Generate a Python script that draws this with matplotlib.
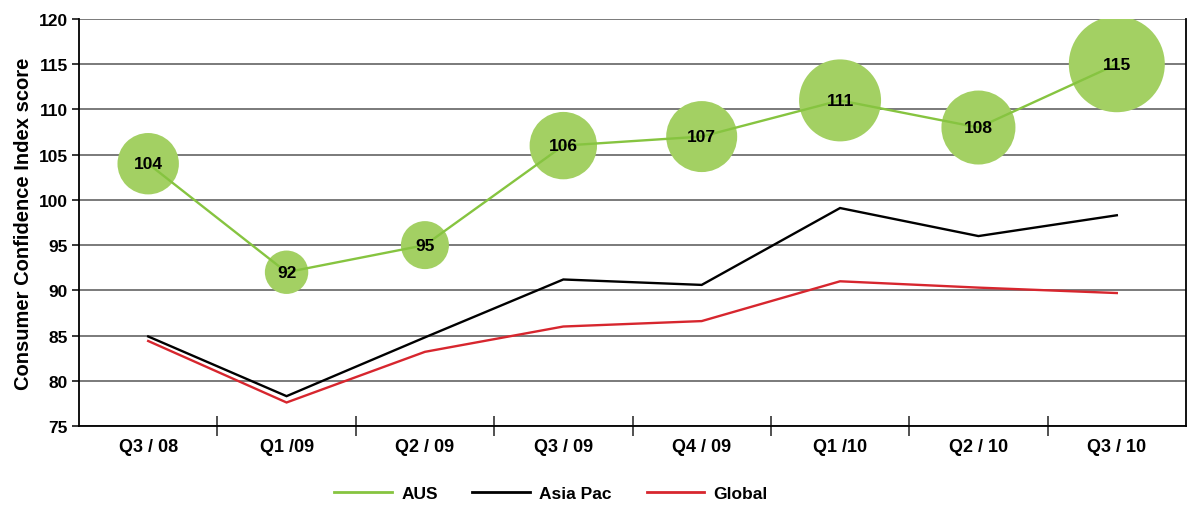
import matplotlib
matplotlib.use("Agg")
import matplotlib.pyplot as plt
from matplotlib.ticker import FixedLocator, NullFormatter

plt.rcParams['font.family'] = ['Liberation Sans', 'DejaVu Sans']

# Quarterly consumer confidence index scores
quarters = ["Q3 / 08", "Q1 /09", "Q2 / 09", "Q3 / 09", "Q4 / 09", "Q1 /10", "Q2 / 10", "Q3 / 10"]
aus = [104, 92, 95, 106, 107, 111, 108, 115]
asia_pac = [84.9, 78.3, 84.8, 91.2, 90.6, 99.1, 96.0, 98.3]
global_ = [84.4, 77.6, 83.2, 86.0, 86.6, 91.0, 90.3, 89.7]

# bubble radii in pixels for the AUS markers
bubble_r_px = [30.7, 21.7, 24.0, 33.7, 35.5, 41.0, 37.0, 48.0]

GREEN_LINE = "#86C440"
GREEN_FILL = "#A3D063"
RED = "#D7262E"

dpi = 100
fig = plt.figure(figsize=(11.96, 5.06), dpi=dpi)
ax = fig.add_axes([79 / 1196, 1 - 427 / 506, (1186 - 79) / 1196, (427 - 20) / 506])

x = list(range(len(quarters)))

ax.plot(x, global_, color=RED, lw=1.7, zorder=3, solid_joinstyle="miter")
ax.plot(x, asia_pac, color="black", lw=1.7, zorder=3, solid_joinstyle="miter")

sizes = [(2 * r * 72 / dpi) ** 2 for r in bubble_r_px]
ax.scatter(x, aus, s=sizes, color=GREEN_FILL, edgecolors="none", zorder=4)
ax.plot(x, aus, color=GREEN_LINE, lw=1.7, zorder=5)
for xi, v in zip(x, aus):
    ax.text(xi, v, f"{v:.0f}", ha="center", va="center", fontsize=12.5,
            fontweight="bold", color="black", zorder=6)

# legend handles
ax.plot([], [], color=GREEN_LINE, lw=2, label="AUS")
ax.plot([], [], color="black", lw=2, label="Asia Pac")
ax.plot([], [], color=RED, lw=2, label="Global")
handles, labels = ax.get_legend_handles_labels()
fig.legend(handles[-3:], labels[-3:], loc="center", bbox_to_anchor=(551 / 1196, 1 - 494 / 506),
           ncol=3, frameon=False, handlelength=3.3, handletextpad=0.55, columnspacing=2.0,
           prop={"weight": "bold", "size": 12.5})

ax.set_xlim(-0.5, len(quarters) - 0.5)
ax.set_ylim(75, 120)
ax.set_yticks(range(75, 121, 5))
ax.yaxis.grid(True, color="#707070", lw=1.3, zorder=0)
ax.set_axisbelow(True)

ax.set_xticks(x)
ax.set_xticklabels(quarters, fontsize=13, fontweight="bold")
ax.tick_params(axis="x", which="major", length=0, pad=9)
ax.xaxis.set_minor_locator(FixedLocator([i + 0.5 for i in range(len(quarters) - 1)]))
ax.xaxis.set_minor_formatter(NullFormatter())
ax.tick_params(axis="x", which="minor", direction="inout", length=14, width=1.1, color="#222222")
ax.tick_params(axis="y", length=5, width=1.1, pad=3, labelsize=12.5)
for lbl in ax.get_yticklabels():
    lbl.set_fontweight("bold")

for side in ["left", "bottom", "right"]:
    ax.spines[side].set_color("black")
    ax.spines[side].set_linewidth(1.3)
ax.spines["top"].set_visible(False)

ax.set_ylabel("Consumer Confidence Index score", fontsize=14.5, fontweight="bold", labelpad=4)

fig.savefig("out.png", dpi=dpi)
